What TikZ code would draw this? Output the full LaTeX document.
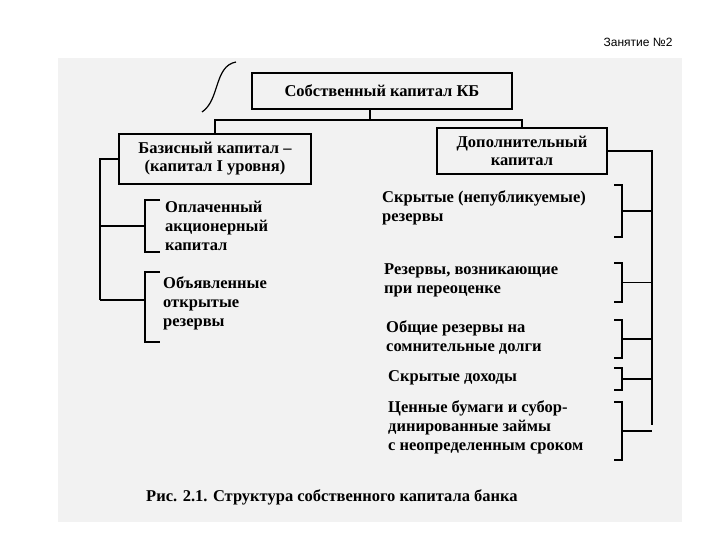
\documentclass[tikz,border=0pt]{standalone}
\usepackage{fontspec}
\setmainfont{Liberation Serif}
\newfontfamily\hdr{Liberation Sans}
\begin{document}
\begin{tikzpicture}[x=1pt,y=-1pt,
  box/.style={draw,line width=1.2pt,align=center,font=\fontsize{16.5}{18}\selectfont\bfseries,inner sep=3pt},
  txt/.style={align=left,anchor=north west,font=\fontsize{16.5}{19}\selectfont\bfseries,inner sep=0pt},
  ln/.style={line width=1.2pt}]
\useasboundingbox (0,0) rectangle (720,540);
\fill[black!5] (58,58) rectangle (682,522);
\node[anchor=east,font=\hdr\fontsize{12}{14}\selectfont] (hd) at (676,42) {Занятие №2};
\node[box,minimum width=260,minimum height=36] (top) at (382,91) {Собственный капитал КБ};
\node[box,minimum width=192,minimum height=50] (base) at (215,159) {Базисный капитал –\\(капитал I уровня)};
\node[box,minimum width=170,minimum height=46] (add) at (522,151) {Дополнительный\\капитал};
\coordinate (j) at (370,120);
\draw[ln] (top.south -| j) -- (j);
\draw[ln] (base.north) |- (j) -| (add.north);
\draw[ln] (236,62) .. controls (214,66) and (220,100) .. (202,112);
% left
\node[txt] (a1) at (165,201) {Оплаченный\\акционерный\\капитал};
\node[txt] (a2) at (163,276) {Объявленные\\открытые\\резервы};
\coordinate (lt) at (100,159);
\coordinate (lb) at (100,300);
\draw[ln] (base.west) -- (lt) -- (lb);
\draw[ln] (160,200) -- (145,200) -- (145,252) -- (160,252);
\draw[ln] (145,226) -- (100,226);
\draw[ln] (160,272) -- (145,272) -- (145,342) -- (160,342);
\draw[ln] (145,300) -- (lb);
% right
\node[txt] (b1) at (382,190) {Скрытые (непубликуемые)\\резервы};
\node[txt] (b2) at (384,263) {Резервы, возникающие\\при переоценке};
\node[txt] (b3) at (386,320) {Общие резервы на\\сомнительные долги};
\node[txt] (b4) at (388,370) {Скрытые доходы};
\node[txt] (b5) at (388,400) {Ценные бумаги и субор-\\динированные займы\\с неопределенным сроком};
\coordinate (rt) at (652,151);
\coordinate (rb) at (652,425);
\draw[ln] (add.east) -- (rt) -- (rb);
\foreach \t/\b in {185/237,263/302,320/358,368/390,402/460}{
  \draw[ln] (614,\t) -- (622,\t) -- (622,\b) -- (614,\b);
  \draw[ln] (622,{(\t+\b)/2}) -- (652,{(\t+\b)/2});
}
\node[font=\fontsize{16.5}{18}\selectfont\bfseries] (cap) at (332,497) {Рис. 2.1. Структура собственного капитала банка};
\end{tikzpicture}
\end{document}
